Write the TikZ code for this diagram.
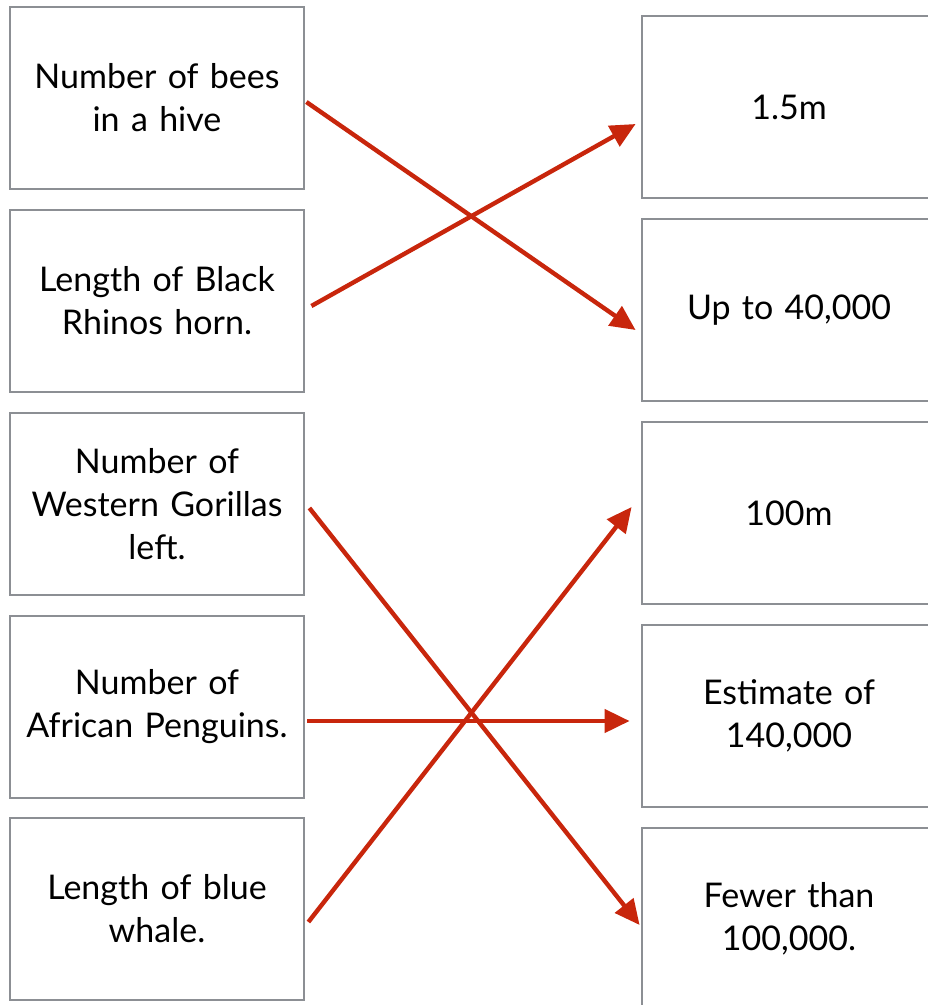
\documentclass[tikz,border=0pt]{standalone}
\usepackage{fontspec}
\setmainfont{Lato}
\usepackage{tikz}
\usetikzlibrary{arrows.meta,calc}

\definecolor{boxgray}{RGB}{140,143,148}
\definecolor{arrowred}{RGB}{200,38,12}

\begin{document}
\begin{tikzpicture}[
    x=1pt, y=-1pt,
    fact/.style={rectangle, draw=boxgray, line width=2.8pt, fill=white, minimum width=294pt, minimum height=182pt, text width=285pt, align=center, inner sep=0pt, font=\fontsize{34}{43}\selectfont},
    answer/.style={fact},
    arrow/.style={-{Triangle[length=25pt,width=23pt]}, line width=4.4pt, arrowred}
  ]
    \clip (0,0) rectangle (928,1005);

    % Left column: the facts
    \node[fact] (fact1) at (157,98) {Number of bees\\in a hive};
    \node[fact] (fact2) at (157,301) {Length of Black\\Rhinos horn.};
    \node[fact] (fact3) at (157,504) {Number of\\Western Gorillas\\left.};
    \node[fact] (fact4) at (157,707) {Number of\\African Penguins.};
    \node[fact] (fact5) at (157,909) {Length of blue\\whale.};

    % Right column: the answers
    \node[answer] (ans1) at (789,107) {1.5m};
    \node[answer] (ans2) at (789,310) {Up to 40,000};
    \node[answer] (ans3) at (789,513) {100m};
    \node[answer] (ans4) at (789,716) {Estimate of\\140,000};
    \node[answer] (ans5) at (789,919) {Fewer than\\100,000.};

    % Matching arrows
    \draw[arrow] ($(fact1.east)+(1,4)$) -- ($(ans2.west)+(-5,20)$);
    \draw[arrow] ($(fact2.east)+(6,5)$) -- ($(ans1.west)+(-5,17)$);
    \draw[arrow] ($(fact3.east)+(4,4)$) -- ($(ans5.west)+(-1,6)$);
    \draw[arrow] ($(fact4.east)+(2,14)$) -- ($(ans4.west)+(-11,5)$);
    \draw[arrow] ($(fact5.east)+(3,13)$) -- ($(ans3.west)+(-9,-6)$);

  \end{tikzpicture}
\end{document}
